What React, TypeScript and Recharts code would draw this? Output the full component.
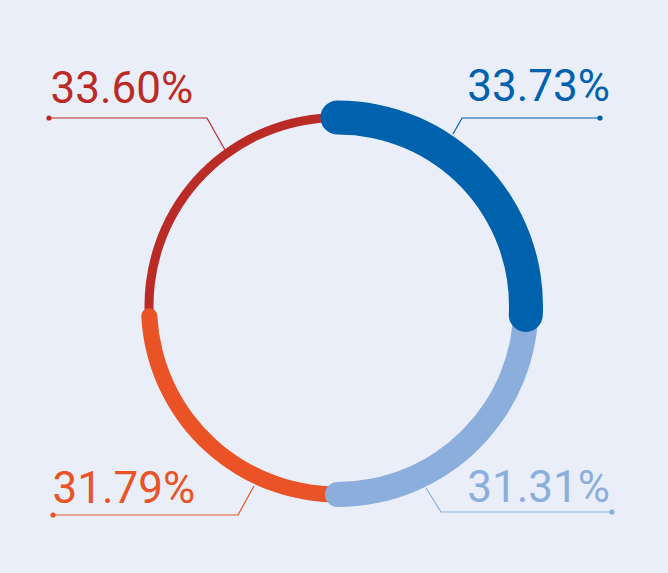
import { Pie, PieChart } from 'recharts'

// values shown on each quarter of the ring (clockwise from 12 o'clock)
const segmentNames = ['A', 'B', 'C', 'D']
const segmentValues = [33.73, 31.31, 31.79, 33.6]
const segmentLabels = ['33.73%', '31.31%', '31.79%', '33.60%']

const colors = ['#0061ad', '#8caedc', '#e95326', '#ba2b26']
const bg = '#eaeef9'

const W = 668
const H = 573
const CX = 337.5
const CY = 306
const R = 188.5

// thickness and angles (recharts degrees, ccw from 3 o'clock) per segment
const styles = [
  { thick: 34, start: 95.2, end: -7.9 },
  { thick: 25, start: 4, end: -93.8 },
  { thick: 16, start: 275, end: 180.6 },
  { thick: 9, start: 186, end: 91 },
]

// leader line points relative to ring centre: arc point, elbow, dot, text pos
const leaders = [
  { arc: [115.5, -172], elbow: [124.5, -188], dot: [262.5, -188], text: [272.5, -205], anchor: 'end' },
  { arc: [88.5, 182], elbow: [103.5, 206], dot: [274.5, 206], text: [272.5, 196], anchor: 'end' },
  { arc: [-83.5, 180], elbow: [-99.5, 209], dot: [-284.5, 209], text: [-285, 197], anchor: 'start' },
  { arc: [-112.5, -156], elbow: [-130.5, -188], dot: [-288.5, -188], text: [-287, -203], anchor: 'start' },
]

function Leader({ p, i }: { p: any; i: number }) {
  const cx = typeof p.cx === 'number' ? p.cx : CX
  const cy = typeof p.cy === 'number' ? p.cy : CY
  const l = leaders[i]
  const c = colors[i]
  const pts = [l.arc, l.elbow, l.dot].map(([x, y]) => `${cx + x},${cy + y}`).join(' ')
  return (
    <g>
      <polyline points={pts} fill="none" stroke={c} strokeWidth={1.2} />
      <circle cx={cx + l.dot[0]} cy={cy + l.dot[1]} r={2.6} fill={c} />
      <text
        x={cx + l.text[0]}
        y={cy + l.text[1]}
        textAnchor={l.anchor as any}
        fill={c}
        fontSize={44}
        fontFamily="Roboto, 'Noto Sans', sans-serif"
      >
        {segmentLabels[i]}
      </text>
    </g>
  )
}

// draw order: red, orange, light blue, blue (blue on top)
const order = [3, 2, 1, 0]

export default function App() {
  return (
    <div style={{ position: 'absolute', left: 0, top: 0, width: W, height: H, background: bg }}>
      <PieChart width={W} height={H} margin={{ top: 0, right: 0, bottom: 0, left: 0 }}>
        {order.map((i) => {
          const s = styles[i]
          return (
            <Pie
              key={segmentNames[i]}
              data={[{ name: segmentNames[i], value: segmentValues[i] }]}
              dataKey="value"
              cx={CX}
              cy={CY}
              innerRadius={R - s.thick / 2}
              outerRadius={R + s.thick / 2}
              cornerRadius={s.thick / 2}
              startAngle={s.start}
              endAngle={s.end}
              fill={colors[i]}
              stroke="none"
              labelLine={false}
              label={(p: any) => <Leader p={p} i={i} />}
              isAnimationActive={false}
            />
          )
        })}
      </PieChart>
    </div>
  )
}
